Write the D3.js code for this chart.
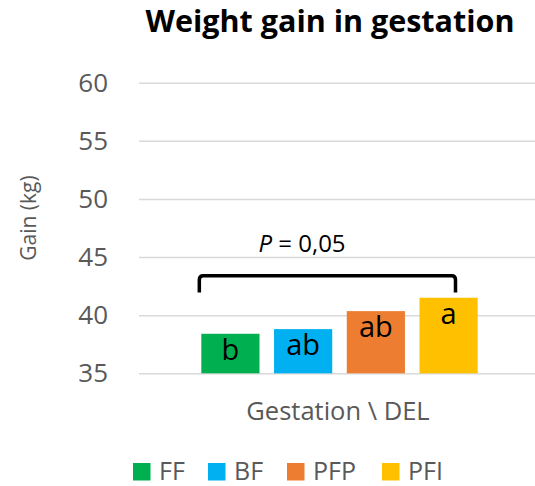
<!DOCTYPE html>
<html>
<head>
<meta charset="utf-8">
<script src="https://cdn.jsdelivr.net/npm/d3@7"></script>
<style>
  html, body { margin: 0; padding: 0; background: #fff; }
  svg { display: block; }
  text { font-family: "Open Sans", sans-serif; }
</style>
</head>
<body>
<svg id="chart" width="535" height="486"></svg>
<script>
// ---- data ----
const title = "Weight gain in gestation";
const category = "Gestation \\ DEL";
const series = ["FF", "BF", "PFP", "PFI"];
const values = [38.4, 38.8, 40.35, 41.5];
const letters = ["b", "ab", "ab", "a"];
const colors = ["#00B050", "#00B0F0", "#ED7D31", "#FFC000"];
const yTicks = [35, 40, 45, 50, 55, 60];
const yTitle = "Gain (kg)";
const pLabel = "0,05";
const bracketTop = 43.4;
const bracketBottom = 41.95;

// ---- layout ----
const FONT = "'Open Sans', sans-serif";
const svg = d3.select("#chart");
const plot = { left: 139, right: 540, top: 82.7, bottom: 373.3 };

const y = d3.scaleLinear().domain([35, 60]).range([plot.bottom, plot.top]);
const xOuter = d3.scaleBand().domain([category]).range([plot.left, plot.right])
  .paddingInner(0.184).paddingOuter(0.184);
const xInner = d3.scaleBand().domain(series)
  .range([xOuter(category), xOuter(category) + xOuter.bandwidth()])
  .paddingInner(0.2).paddingOuter(0);

// title
svg.append("text")
  .attr("x", 330).attr("y", 32)
  .attr("text-anchor", "middle")
  .attr("font-size", 30.5).attr("font-weight", 700)
  .attr("fill", "#000")
  .text(title);

// gridlines + y axis
const yAxis = d3.axisLeft(y).tickValues(yTicks).tickSize(-(plot.right - plot.left)).tickPadding(31);
const gy = svg.append("g").attr("transform", `translate(${plot.left},0)`).call(yAxis);
gy.select(".domain").remove();
gy.selectAll(".tick line").attr("stroke", "#d9d9d9").attr("stroke-width", 1.5);
gy.selectAll(".tick text")
  .attr("font-family", FONT)
  .attr("font-size", 26).attr("fill", "#595959");

// y title
svg.append("text")
  .attr("transform", `translate(36,218) rotate(-90)`)
  .attr("text-anchor", "middle")
  .attr("font-size", 21).attr("fill", "#595959")
  .text(yTitle);

// bars
svg.append("g").selectAll("rect").data(series).join("rect")
  .attr("x", d => xInner(d))
  .attr("y", (d, i) => y(values[i]))
  .attr("width", xInner.bandwidth())
  .attr("height", (d, i) => y(35) - y(values[i]))
  .attr("fill", (d, i) => colors[i]);

// letters
svg.append("g").selectAll("text").data(series).join("text")
  .attr("x", d => xInner(d) + xInner.bandwidth() / 2)
  .attr("y", (d, i) => y(values[i]) + 26)
  .attr("text-anchor", "middle")
  .attr("font-size", 29).attr("fill", "#000")
  .text((d, i) => letters[i]);

// bracket
const bx1 = xInner(series[0]) - 2;
const bx2 = xInner(series[3]) + 36;
const yt = y(bracketTop), yb = y(bracketBottom);
const r = 4;
svg.append("path")
  .attr("d", `M${bx1},${yb} L${bx1},${yt + r} Q${bx1},${yt} ${bx1 + r},${yt} L${bx2 - r},${yt} Q${bx2},${yt} ${bx2},${yt + r} L${bx2},${yb}`)
  .attr("fill", "none").attr("stroke", "#000").attr("stroke-width", 3.5);

// P label
const pt = svg.append("text")
  .attr("x", 302).attr("y", 252)
  .attr("text-anchor", "middle")
  .attr("font-size", 24).attr("fill", "#000");
pt.append("tspan").attr("font-style", "italic").text("P");
pt.append("tspan").text(" = " + pLabel);

// x axis title
svg.append("text")
  .attr("x", 338).attr("y", 420)
  .attr("text-anchor", "middle")
  .attr("font-size", 25.5).attr("fill", "#595959")
  .text(category);

// legend
const legendX = [133, 208, 287, 382];
const lg = svg.append("g").selectAll("g").data(series).join("g")
  .attr("transform", (d, i) => `translate(${legendX[i]},463)`);
lg.append("rect").attr("width", 17.5).attr("height", 17.5).attr("fill", (d, i) => colors[i]);
lg.append("text").attr("x", 26).attr("y", 17)
  .attr("font-size", 25).attr("fill", "#595959")
  .text(d => d);
</script>
</body>
</html>
